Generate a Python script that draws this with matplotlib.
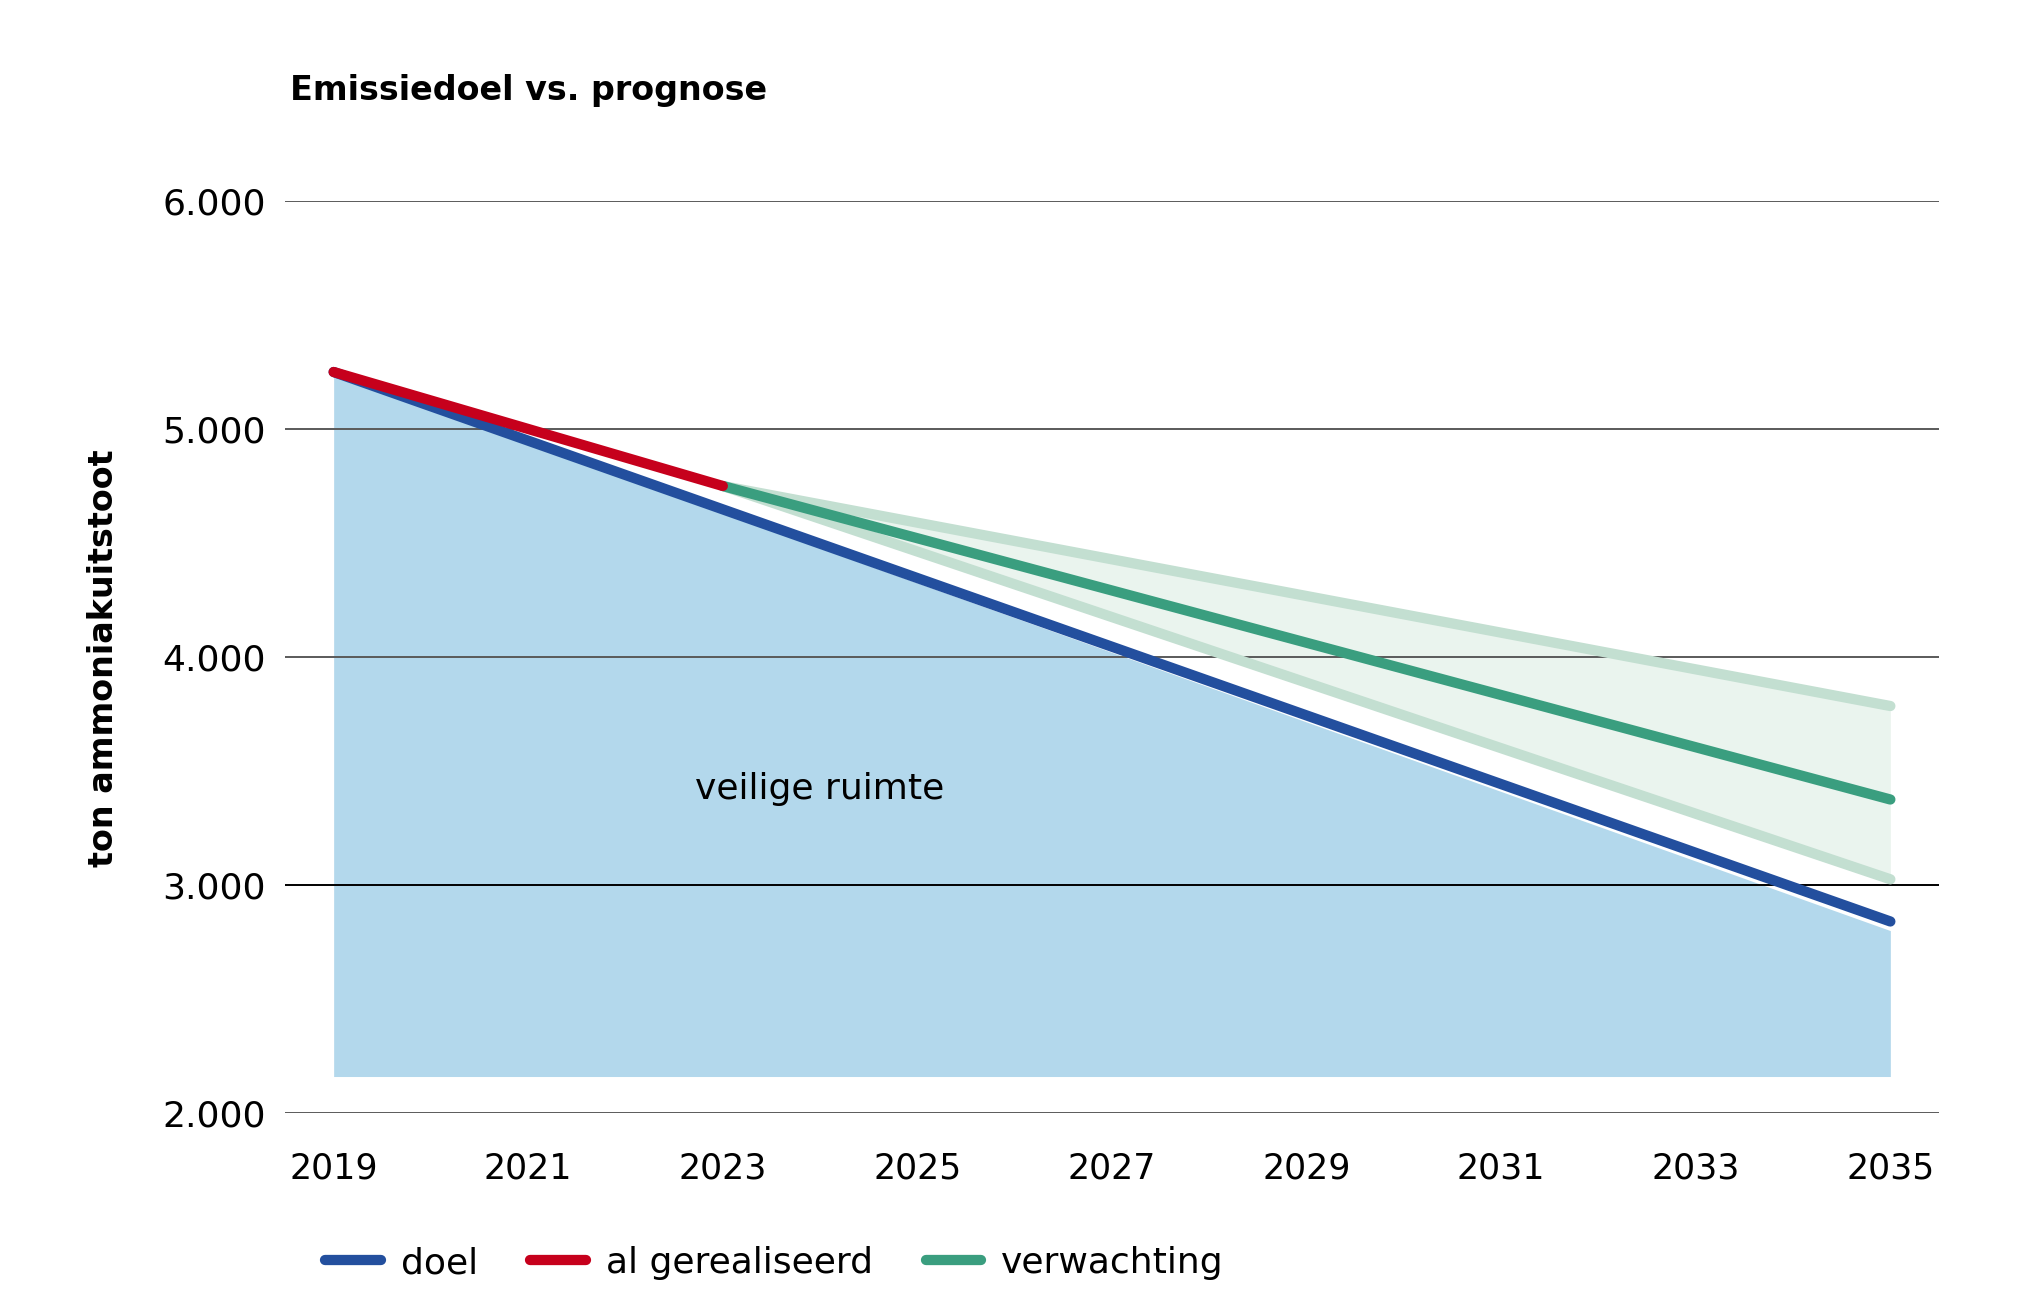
import matplotlib
matplotlib.use("Agg")
import matplotlib.pyplot as plt

# jaren en waarden (ton ammoniak)
doel_jaren = [2019, 2035]
doel = [5250, 2840]

gerealiseerd_jaren = [2019, 2023]
gerealiseerd = [5250, 4750]

verwachting_jaren = [2023, 2035]
verwachting = [4750, 3375]
verwachting_hoog = [4750, 3785]
verwachting_laag = [4750, 3025]

veilig_jaren = [2019, 2035]
veilig_boven = [5240, 2800]
veilig_onder = [2160, 2160]

x_ticks = [2019, 2021, 2023, 2025, 2027, 2029, 2031, 2033, 2035]
y_ticks = [2000, 3000, 4000, 5000, 6000]
y_labels = ["2.000", "3.000", "4.000", "5.000", "6.000"]

fig = plt.figure(figsize=(20.32, 13.16), dpi=100)
ax = fig.add_axes([285 / 2032, 1 - 1113 / 1316, (1939 - 285) / 2032, (1113 - 201) / 1316])

# veilige ruimte
ax.fill_between(veilig_jaren, veilig_onder, veilig_boven, color="#b3d8ec", lw=0, zorder=1)
# onzekerheidsband
ax.fill_between(verwachting_jaren, verwachting_laag, verwachting_hoog, color="#eaf4ee", lw=0, zorder=1.5)

# rasterlijnen
for y in y_ticks:
    ax.axhline(y, color="#000000" if y == 3000 else "#5a5a5a", lw=1.4, zorder=2)

lw = 7.4
ax.plot(verwachting_jaren, verwachting_hoog, color="#c3dfd1", lw=lw, solid_capstyle="round", zorder=3)
ax.plot(verwachting_jaren, verwachting_laag, color="#c3dfd1", lw=lw, solid_capstyle="round", zorder=3)
ax.plot(verwachting_jaren, verwachting, color="#3a9e7f", lw=lw, solid_capstyle="round", zorder=4, label="verwachting")
ax.plot(doel_jaren, doel, color="#234f9e", lw=lw, solid_capstyle="round", zorder=5, label="doel")
ax.plot(gerealiseerd_jaren, gerealiseerd, color="#c6001c", lw=lw, solid_capstyle="round", zorder=6, label="al gerealiseerd")

ax.text(2024.0, 3420, "veilige ruimte", fontsize=26, ha="center", va="center", zorder=7)

ax.set_xlim(2018.5, 2035.5)
ax.set_ylim(2000, 6000)
ax.set_xticks(x_ticks)
ax.set_xticklabels([str(x) for x in x_ticks], fontsize=25)
ax.set_yticks(y_ticks)
ax.set_yticklabels(y_labels, fontsize=26)
ax.tick_params(axis="x", length=0, pad=28)
ax.tick_params(axis="y", length=0, pad=14)
for s in ax.spines.values():
    s.set_visible(False)

fig.text(290 / 2032, 1 - 100 / 1316, "Emissiedoel vs. prognose", fontsize=24,
         fontweight="bold", ha="left", va="baseline")
fig.text(104 / 2032, 1 - 658 / 1316, "ton ammoniakuitstoot", fontsize=24,
         fontweight="bold", rotation=90, ha="center", va="center")

handles, labels = ax.get_legend_handles_labels()
order = [1, 2, 0]
leg = fig.legend([handles[i] for i in order], [labels[i] for i in order],
                 loc="center left", bbox_to_anchor=(325 / 2032, 1 - 1263 / 1316),
                 ncol=3, frameon=False, handlelength=1.55, handletextpad=0.55,
                 columnspacing=1.45, borderpad=0, borderaxespad=0,
                 prop={"size": 26})

fig.savefig("out.png", dpi=100)
